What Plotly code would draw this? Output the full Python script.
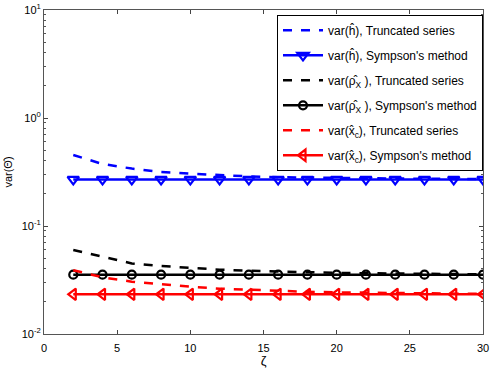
import plotly.graph_objects as go

zeta = [2, 4, 6, 8, 10, 12, 14, 16, 18, 20, 22, 24, 26, 28, 30]

h_trunc = [0.454, 0.375, 0.340, 0.316, 0.305, 0.295, 0.288, 0.283, 0.280, 0.278, 0.276, 0.275, 0.274, 0.273, 0.272]
h_simp = [0.270] * 15
rho_trunc = [0.060, 0.052, 0.045, 0.0426, 0.0408, 0.0394, 0.0385, 0.0378, 0.0372, 0.0368, 0.0365, 0.0362, 0.0360, 0.0358, 0.0357]
rho_simp = [0.0354] * 15
xc_trunc = [0.039, 0.0335, 0.0305, 0.0287, 0.0274, 0.0263, 0.0256, 0.0250, 0.0246, 0.0243, 0.0241, 0.0239, 0.0237, 0.0236, 0.0235]
xc_simp = [0.0233] * 15

names = [
    "var(ĥ), Truncated series",
    "var(ĥ), Sympson's method",
    "var(ρ̂<sub>X</sub> ), Truncated series",
    "var(ρ̂<sub>X</sub> ), Sympson's method",
    "var(x̂<sub>c</sub>), Truncated series",
    "var(x̂<sub>c</sub>), Sympson's method",
]

yticks = [0.01, 0.1, 1, 10]
yticktext = ["10<sup>-2</sup>", "10<sup>-1</sup>", "10<sup>0</sup>", "10<sup>1</sup>"]
xticks = [0, 5, 10, 15, 20, 25, 30]

fig = go.Figure()
series = [
    (h_trunc, "blue", None, 0),
    (h_simp, "blue", "triangle-down-open", 10),
    (rho_trunc, "black", None, 0),
    (rho_simp, "black", "circle-open", 8),
    (xc_trunc, "red", None, 0),
    (xc_simp, "red", "triangle-left-open", 10),
]
for i, (vals, col, sym, msize) in enumerate(series):
    if sym is None:
        fig.add_trace(go.Scatter(x=zeta, y=vals, mode="lines", name=names[i],
                                 line=dict(color=col, dash="dash", width=2.5),
                                 legendgroup=str(i)))
    else:
        fig.add_trace(go.Scatter(x=zeta, y=vals, mode="lines+markers", name=names[i],
                                 line=dict(color=col, width=2.5),
                                 marker=dict(symbol=sym, size=msize, color=col, line=dict(color=col, width=2.2)),
                                 legendgroup=str(i)))

minor_vals = []
for d in [0.01, 0.1, 1]:
    for k in range(2, 10):
        minor_vals.append(d * k)

fig.update_layout(
    width=491, height=368,
    margin=dict(l=44, r=8, t=10, b=34, autoexpand=False),
    paper_bgcolor="white", plot_bgcolor="white",
    font=dict(family="Liberation Sans, Arial, sans-serif", size=11, color="black"),
    showlegend=True,
    legend=dict(x=1, xanchor="right", y=0.985, yanchor="top",
                bgcolor="white", bordercolor="black", borderwidth=1,
                font=dict(size=12), tracegroupgap=6, itemwidth=40),
    xaxis=dict(range=[0, 30], tickvals=xticks, ticks="inside", ticklen=4,
               ticklabelstandoff=4,
               showline=True, linecolor="#555", linewidth=1, mirror="ticks",
               showgrid=False, zeroline=False, automargin=False,
               title=dict(text="ζ", standoff=0, font=dict(size=13))),
    yaxis=dict(type="log", range=[-2, 1], tickvals=yticks, ticktext=yticktext,
               ticks="inside", ticklen=4, automargin=False,
               minor=dict(ticks="inside", ticklen=2, tickvals=minor_vals, tickcolor="#555"),
               showline=True, linecolor="#555", linewidth=1, mirror="ticks",
               showgrid=False, zeroline=False,
               title=dict(text="var(Θ̂)", standoff=6, font=dict(size=11))),
)

fig.write_html("out.html", config={"displayModeBar": False},
               post_script="document.body.style.margin='0';document.body.style.overflow='hidden';")
